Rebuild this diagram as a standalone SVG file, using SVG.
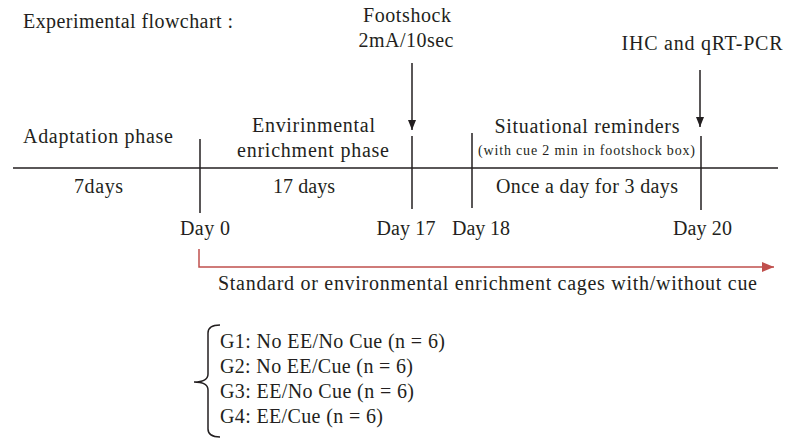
<svg xmlns="http://www.w3.org/2000/svg" width="787" height="441" viewBox="0 0 787 441">
<defs>
<style>
text{font-family:"Liberation Serif","Times New Roman",serif;font-size:20px;fill:#231f20}
.s{font-size:14px}
.m{text-anchor:middle}
.ln{stroke:#231f20;stroke-width:1.5;fill:none}
.red{stroke:#c0504d;stroke-width:1.5;fill:none}
</style>
<marker id="ah" markerWidth="10" markerHeight="10" refX="10" refY="5" orient="auto" markerUnits="userSpaceOnUse"><path d="M0,1 L10,5 L0,9 Z" fill="#231f20"/></marker>
<marker id="rh" markerWidth="12" markerHeight="12" refX="12" refY="6" orient="auto" markerUnits="userSpaceOnUse"><path d="M0,1 L12,6 L0,11 Z" fill="#c0504d"/></marker>
</defs>
<rect width="787" height="441" fill="#fff"/>
<g id="connectors">
<line class="ln" x1="13" y1="168" x2="778" y2="168"/>
<line class="ln" x1="200" y1="139" x2="200" y2="213"/>
<line class="ln" x1="412" y1="136" x2="412" y2="209"/>
<line class="ln" x1="472" y1="133" x2="472" y2="208"/>
<line class="ln" x1="701" y1="136" x2="701" y2="210"/>
<line class="ln" x1="412" y1="63" x2="412" y2="130" marker-end="url(#ah)"/>
<line class="ln" x1="700" y1="70" x2="700" y2="127" marker-end="url(#ah)"/>
<polyline class="red" points="199,249 199,267 774,267" marker-end="url(#rh)"/>
<path class="ln" d="M220,325 Q208,325 208,333 L208,374 Q208,382 194,382 Q208,382 208,390 L208,429 Q208,437 220,437"/>
</g>
<g id="title"><text x="23" y="28" textLength="210">Experimental flowchart :</text></g>
<g id="footshock"><text class="m" x="407" y="22" textLength="88">Footshock</text><text class="m" x="406" y="47" textLength="95">2mA/10sec</text></g>
<g id="ihc"><text class="m" x="702" y="50" textLength="161">IHC and qRT-PCR</text></g>
<g id="adaptation"><text class="m" x="98" y="143" textLength="150">Adaptation phase</text><text class="m" x="98.5" y="193" textLength="49">7days</text></g>
<g id="enrichment"><text class="m" x="313.5" y="132" textLength="123">Envirinmental</text><text class="m" x="313" y="157" textLength="152">enrichment phase</text><text class="m" x="304" y="193" textLength="62">17 days</text></g>
<g id="reminders"><text class="m" x="587" y="133" textLength="185">Situational reminders</text><text class="m s" x="586.5" y="155" textLength="217">(with cue 2 min in footshock box)</text><text class="m" x="587" y="193" textLength="182">Once a day for 3 days</text></g>
<g id="days"><text class="m" x="205" y="235" textLength="50">Day 0</text><text class="m" x="406" y="235" textLength="59">Day 17</text><text class="m" x="481" y="235" textLength="58">Day 18</text><text class="m" x="702.5" y="235" textLength="59">Day 20</text></g>
<g id="cages"><text x="218" y="290" textLength="539">Standard or environmental enrichment cages with/without cue</text></g>
<g id="groups"><text x="220" y="348" textLength="225">G1: No EE/No Cue (n = 6)</text><text x="220" y="373" textLength="193">G2: No EE/Cue (n = 6)</text><text x="220" y="398" textLength="194">G3: EE/No Cue (n = 6)</text><text x="220" y="423" textLength="163">G4: EE/Cue (n = 6)</text></g>
</svg>
